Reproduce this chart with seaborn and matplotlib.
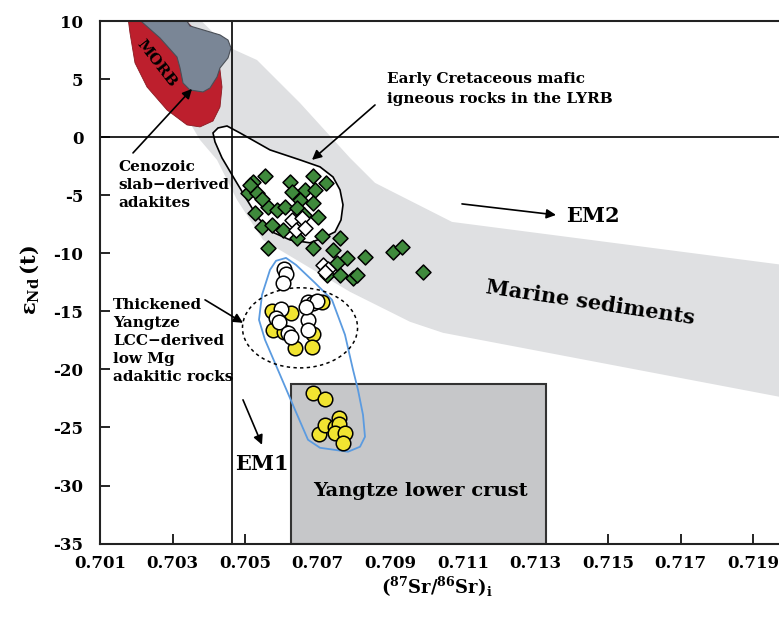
import matplotlib
matplotlib.use("Agg")
import matplotlib.pyplot as plt
from matplotlib.patches import Polygon, Rectangle, Ellipse
import numpy as np
import pandas as pd
import seaborn as sns

# ---- sample data: (87Sr/86Sr)i and eNd(t) ----
# Early Cretaceous mafic igneous rocks in the LYRB (green diamonds)
mafic_sr = [0.705215, 0.705545, 0.705077, 0.705325, 0.705132, 0.705270, 0.705463,
            0.705738, 0.705628, 0.705876, 0.706096, 0.706234, 0.706289, 0.706647,
            0.706868, 0.706923, 0.707226, 0.706510, 0.706427, 0.706868, 0.707006,
            0.706427, 0.706868, 0.707116, 0.707612, 0.707419, 0.707804, 0.708300,
            0.709072, 0.709320, 0.709898, 0.707253, 0.707612, 0.707970, 0.708080,
            0.707529, 0.705628, 0.706041, 0.706620, 0.705463]
mafic_nd = [-3.86, -3.34, -4.80, -4.80, -4.11, -6.52, -7.73,
            -7.56, -6.01, -6.27, -6.01, -3.86, -4.72, -4.54,
            -3.34, -4.54, -3.94, -5.40, -6.09, -5.66, -6.87,
            -8.67, -9.54, -8.50, -8.67, -9.71, -10.40, -10.31,
            -9.88, -9.45, -11.60, -11.86, -11.86, -12.12, -11.86,
            -10.83, -9.54, -7.99, -6.70, -5.32]
# open diamonds
open_dia_sr = [0.706289, 0.706565, 0.706399, 0.706647, 0.707143, 0.707281, 0.707198]
open_dia_nd = [-7.13, -6.95, -7.99, -7.81, -11.00, -11.34, -11.60]
# low-Mg adakitic rocks (yellow circles)
yellow_sr = [0.705738, 0.706262, 0.705766, 0.706069, 0.706372, 0.707116, 0.706868, 0.706840,
             0.706868, 0.707198, 0.707033, 0.707198, 0.707474, 0.707584, 0.707584, 0.707474,
             0.707749, 0.707694]
yellow_nd = [-14.96, -15.13, -16.59, -16.76, -18.14, -14.18, -16.94, -18.06,
             -22.01, -22.53, -25.54, -24.77, -24.94, -24.17, -24.68, -25.46,
             -25.46, -26.32]
# open circles
white_sr = [0.706069, 0.706124, 0.706041, 0.705986, 0.705848, 0.705931, 0.706179, 0.706262,
            0.706730, 0.706868, 0.706978, 0.706730, 0.706730, 0.706675]
white_nd = [-11.34, -11.77, -12.55, -14.79, -15.56, -15.90, -16.85, -17.19,
            -14.18, -14.27, -14.10, -15.73, -16.59, -14.61]

# ---- reference fields ----
marine_sr = [0.702377, 0.703479, 0.704526, 0.705325, 0.706510, 0.707887, 0.708576, 0.710697,
             0.720008, 0.720008, 0.710449, 0.709540, 0.707887, 0.705490, 0.704774, 0.704223,
             0.703755, 0.703479, 0.702928, 0.702102]
marine_nd = [10.95, 10.95, 7.77, 6.64, 2.94, -1.79, -3.94, -7.30,
             -11.08, -22.53, -16.85, -15.90, -13.32, -8.85, -5.40, -1.96,
             -0.24, 1.22, 4.06, 10.95]
morb_sr = [0.701744, 0.701826, 0.701964, 0.702295, 0.702846, 0.703397, 0.703755, 0.704113,
           0.704306, 0.704361, 0.704306, 0.704140, 0.703755, 0.703066]
morb_nd = [10.95, 8.97, 6.39, 4.32, 2.34, 1.05, 0.88, 1.39,
           2.60, 4.32, 5.78, 7.40, 8.80, 10.95]
adakite_sr = [0.702047, 0.702157, 0.702653, 0.703121, 0.703204, 0.703287, 0.703479, 0.703837,
              0.704030, 0.704223, 0.704306, 0.704526, 0.704609, 0.704526, 0.704306, 0.703479,
              0.703204]
adakite_nd = [10.95, 9.91, 8.54, 6.90, 5.96, 4.66, 4.06, 3.89,
              4.23, 5.18, 5.96, 6.82, 7.68, 8.36, 8.80, 9.57,
              10.95]
lyrb_sr = [0.704499, 0.704251, 0.704113, 0.704168, 0.704361, 0.704719, 0.705050, 0.705353,
           0.705738, 0.706234, 0.706785, 0.707143, 0.707474, 0.707639, 0.707694, 0.707612,
           0.707419, 0.707061, 0.706510, 0.705683, 0.704857]
lyrb_nd = [0.96, 0.79, 0.36, -0.41, -1.79, -3.68, -5.40, -6.95,
           -8.16, -8.85, -9.10, -8.67, -8.16, -7.13, -5.83, -4.54,
           -3.43, -2.56, -1.96, -1.10, 0.36]
field_sr = [0.705683, 0.705848, 0.706124, 0.706399, 0.706923, 0.707391, 0.707749, 0.707970,
            0.708107, 0.708245, 0.708300, 0.708163, 0.707832, 0.707061, 0.706730, 0.706372,
            0.705959, 0.705545, 0.705380, 0.705463]
field_nd = [-11.43, -10.65, -10.40, -11.00, -12.55, -14.01, -17.02, -20.03,
            -21.76, -23.91, -25.80, -26.66, -27.09, -26.75, -26.06, -23.48,
            -20.46, -17.45, -15.73, -13.58]
crust_sr = [0.70626, 0.71329]
crust_nd = [-35.0, -21.24]
lcc_center = (0.70651, -16.42)
lcc_size = (0.00317, 6.9)
em1_sr = 0.70465

xticks = [0.701, 0.703, 0.705, 0.707, 0.709, 0.711, 0.713, 0.715, 0.717, 0.719]
yticks = [10, 5, 0, -5, -10, -15, -20, -25, -30, -35]

sns.set_style("ticks")
plt.rcParams.update({
    "font.family": ["DejaVu Serif"],
    "font.weight": "bold",
    "axes.unicode_minus": False,
    "mathtext.fontset": "dejavuserif",
    "text.color": "black",
    "axes.labelcolor": "black",
})

fig = plt.figure(figsize=(7.79, 6.19), dpi=100)
ax = fig.add_axes([100 / 779, 75.4 / 619, 679 / 779, 522.6 / 619])
ax.set_xlim(0.701, 0.719705)
ax.set_ylim(-35, 10)

# fields
ax.add_patch(Polygon(np.column_stack([marine_sr, marine_nd]), closed=True,
                     facecolor="#dfe0e2", edgecolor="none", zorder=1))
ax.add_patch(Polygon(np.column_stack([morb_sr, morb_nd]), closed=True,
                     facecolor="#bd1f2d", edgecolor="#8a1a22", lw=0.6, zorder=2))
ax.add_patch(Polygon(np.column_stack([adakite_sr, adakite_nd]), closed=True,
                     facecolor="#7a8696", edgecolor="#4a4f57", lw=0.8, zorder=2.1))
ax.add_patch(Rectangle((crust_sr[0], crust_nd[0]), crust_sr[1] - crust_sr[0],
                       crust_nd[1] - crust_nd[0], facecolor="#c6c7c9",
                       edgecolor="#333333", lw=1.5, zorder=2))
ax.add_patch(Polygon(np.column_stack([lyrb_sr, lyrb_nd]), closed=True,
                     facecolor="white", edgecolor="black", lw=1.2, zorder=2.2))

ax.axhline(0, color="black", lw=1.2, zorder=2.5)
ax.axvline(em1_sr, color="black", lw=1.2, zorder=2.5)

ax.add_patch(Polygon(np.column_stack([field_sr, field_nd]), closed=True,
                     facecolor="none", edgecolor="#5b9be0", lw=1.3, zorder=2.6,
                     joinstyle="round"))
ax.add_patch(Ellipse(lcc_center, lcc_size[0], lcc_size[1], facecolor="none",
                     edgecolor="black", lw=1.1, linestyle=(0, (2.2, 2.2)), zorder=2.6))

# samples
df = pd.concat([
    pd.DataFrame({"sr": mafic_sr, "nd": mafic_nd, "grp": "mafic"}),
    pd.DataFrame({"sr": open_dia_sr, "nd": open_dia_nd, "grp": "open_dia"}),
    pd.DataFrame({"sr": yellow_sr, "nd": yellow_nd, "grp": "yellow"}),
    pd.DataFrame({"sr": white_sr, "nd": white_nd, "grp": "white"}),
], ignore_index=True)

styles = {
    "mafic": dict(marker="D", color="#3f8a3c", s=58),
    "open_dia": dict(marker="D", color="white", s=58),
    "yellow": dict(marker="o", color="#f1e431", s=110),
    "white": dict(marker="o", color="white", s=110),
}
for i, (grp, st) in enumerate(styles.items()):
    sns.scatterplot(data=df[df.grp == grp], x="sr", y="nd", ax=ax,
                    marker=st["marker"], color=st["color"], s=st["s"],
                    edgecolor="black", linewidth=1.1, zorder=3 + i, legend=False)

# labels
ax.text(0.702560, 6.30, "MORB", rotation=-52, ha="center", va="center",
        fontsize=11, color="black", zorder=4)
ax.text(0.708906, 4.15, "Early Cretaceous mafic\nigneous rocks in the LYRB",
        ha="left", va="center", fontsize=11, linespacing=1.55, zorder=4)
ax.text(0.701496, -4.11, "Cenozoic\nslab\u2212derived\nadakites", ha="left",
        va="center", fontsize=11, linespacing=1.35, zorder=4)
ax.text(0.701358, -17.54, "Thickened\nYangtze\nLCC\u2212derived\nlow Mg\nadakitic rocks",
        ha="left", va="center", fontsize=11, linespacing=1.35, zorder=4)
ax.text(0.714581, -6.78, "EM2", ha="center", va="center", fontsize=15, zorder=4)
ax.text(0.705463, -28.12, "EM1", ha="center", va="center", fontsize=15, zorder=4)
ax.text(0.714499, -14.27, "Marine sediments", rotation=-8.5, ha="center",
        va="center", fontsize=15, zorder=4)
ax.text(0.709815, -30.45, "Yangtze lower crust", ha="center", va="center",
        fontsize=14, zorder=4)

arrow = dict(arrowstyle="-|>", color="black", lw=1.2, mutation_scale=14,
             shrinkA=0, shrinkB=0)
for tail, tip in [((0.708576, 2.77), (0.70684, -1.96)),
                  ((0.701909, -1.36), (0.703534, 4.15)),
                  ((0.703893, -14.01), (0.70494, -15.99)),
                  ((0.710972, -5.75), (0.713562, -6.70)),
                  ((0.704939, -22.62), (0.705463, -26.49))]:
    ax.annotate("", xy=tip, xytext=tail, arrowprops=arrow, zorder=4)

# axes
ax.set_xticks(xticks)
ax.set_xticklabels([f"{v:.3f}" for v in xticks])
ax.set_yticks(yticks)
ax.set_yticklabels([str(v) for v in yticks])
ax.tick_params(direction="in", length=7, width=1.2, labelsize=12, colors="black")
ax.tick_params(axis="y", pad=12)
ax.tick_params(axis="x", pad=8)
for side in ["left", "bottom", "top"]:
    ax.spines[side].set_linewidth(1.5)
    ax.spines[side].set_color("#222222")
ax.spines["right"].set_visible(False)

ax.set_xlabel(r"$\mathbf{(^{87}Sr/^{86}Sr)_{i}}$", fontsize=13)
ax.xaxis.set_label_coords(0.496, -0.083)
ax.xaxis.label.set_va("center")
ax.set_ylabel(r"$\mathbf{\varepsilon_{Nd}\,(t)}$", fontsize=15)
ax.yaxis.set_label_coords(-0.103, 0.504)
ax.yaxis.label.set_va("center")

fig.savefig("out.png", dpi=100)
